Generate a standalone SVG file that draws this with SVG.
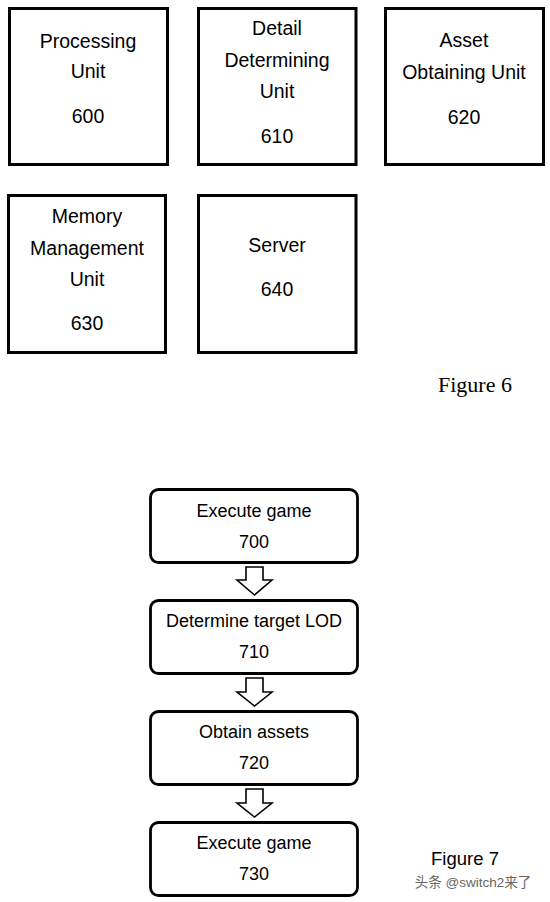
<svg xmlns="http://www.w3.org/2000/svg" width="550" height="902" viewBox="0 0 550 902">
<style>
.box{fill:#fff;stroke:#000;stroke-width:3}
.rbox{fill:#fff;stroke:#000;stroke-width:2.8}
.t{font-family:"Liberation Sans",Arial,sans-serif;font-size:19.5px;fill:#000;text-anchor:middle}
.f{font-family:"Liberation Sans",Arial,sans-serif;font-size:18px;fill:#000;text-anchor:middle}
.arr{fill:#fff;stroke:#000;stroke-width:1.6;stroke-linejoin:miter}
</style>
<rect width="550" height="902" fill="#fff"/>
<g id="n600"><rect class="box" x="9.5" y="8.5" width="158" height="156"/>
<text class="t" x="88" y="48">Processing</text><text class="t" x="88" y="78">Unit</text><text class="t" x="88" y="123">600</text></g>
<g id="n610"><rect class="box" x="198.5" y="8.5" width="157.5" height="156"/>
<text class="t" x="277" y="35">Detail</text><text class="t" x="277" y="67">Determining</text><text class="t" x="277" y="98">Unit</text><text class="t" x="277" y="143">610</text></g>
<g id="n620"><rect class="box" x="385.5" y="8.5" width="158" height="156"/>
<text class="t" x="464" y="47">Asset</text><text class="t" x="464" y="79">Obtaining Unit</text><text class="t" x="464" y="124">620</text></g>
<g id="n630"><rect class="box" x="8.5" y="195.5" width="157" height="157"/>
<text class="t" x="87" y="223">Memory</text><text class="t" x="87" y="255">Management</text><text class="t" x="87" y="286">Unit</text><text class="t" x="87" y="330">630</text></g>
<g id="n640"><rect class="box" x="198.5" y="195.5" width="157.5" height="157"/>
<text class="t" x="277" y="252">Server</text><text class="t" x="277" y="296">640</text></g>
<text x="475" y="392" font-family="Liberation Serif,'Times New Roman',serif" font-size="22" text-anchor="middle" fill="#000">Figure 6</text>

<g id="n700"><rect class="rbox" x="150.5" y="489.5" width="207" height="73" rx="8"/>
<text class="f" x="254" y="517">Execute game</text><text class="f" x="254" y="548">700</text></g>
<g id="n710"><rect class="rbox" x="150.5" y="600.5" width="207" height="73" rx="8"/>
<text class="f" x="254" y="627">Determine target LOD</text><text class="f" x="254" y="658">710</text></g>
<g id="n720"><rect class="rbox" x="150.5" y="711.5" width="207" height="73" rx="8"/>
<text class="f" x="254" y="738">Obtain assets</text><text class="f" x="254" y="769">720</text></g>
<g id="n730"><rect class="rbox" x="150.5" y="822.5" width="207" height="73" rx="8"/>
<text class="f" x="254" y="849">Execute game</text><text class="f" x="254" y="880">730</text></g>

<g id="connectors">
<polygon class="arr" points="246,567 263,567 263,580 272,580 254.5,595 237,580 246,580"/>
<polygon class="arr" points="246,678 263,678 263,692 272,692 254.5,706 237,692 246,692"/>
<polygon class="arr" points="246,789 263,789 263,803 272,803 254.5,817 237,803 246,803"/>
</g>
<text x="465" y="865" font-family="Liberation Sans,Arial,sans-serif" font-size="18.5" text-anchor="middle" fill="#000">Figure 7</text>
<text x="473" y="887" font-family="Liberation Sans,'Noto Sans CJK SC',sans-serif" font-size="13.5" text-anchor="middle" fill="#666">头条 @switch2来了</text>
</svg>
